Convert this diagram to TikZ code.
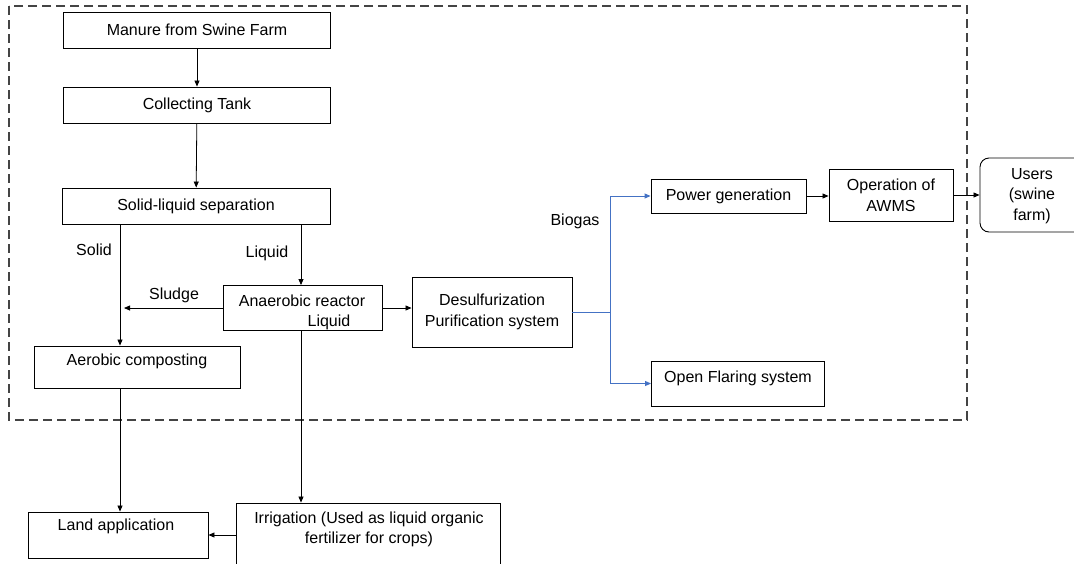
\documentclass[tikz,border=0pt]{standalone}
\usepackage{fontspec}
\setmainfont{Liberation Sans}
\usetikzlibrary{arrows.meta}
\definecolor{flowblue}{HTML}{4472C4}
\definecolor{frame}{HTML}{444444}
\begin{document}
\begin{tikzpicture}[x=1pt,y=-1pt,
  font=\fontsize{16}{20.7}\selectfont,
  box/.style={draw, line width=0.9pt, inner sep=0pt, align=center},
  txt/.style={inner sep=0pt, align=center},
  arr/.style={line width=0.8pt, -{Triangle[length=6pt,width=5pt]}},
  barr/.style={line width=0.9pt, draw=flowblue, -{Triangle[length=6pt,width=5pt]}},
  dashbox/.style={draw=frame, line width=1.2pt, dash pattern=on 9pt off 5pt}]
\useasboundingbox (0,0) rectangle (1074,563);
\draw[dashbox] (9,6) rectangle (967,420);

\node[box, minimum width=267pt, minimum height=36pt] (manure) at (197,30) {Manure from Swine Farm};
\node[box, minimum width=267pt, minimum height=36pt] (tank) at (197,105) {Collecting Tank};
\node[box, minimum width=268pt, minimum height=36pt] (sep) at (196,206) {Solid-liquid separation};

\node[box, minimum width=159pt, minimum height=45pt] (reactor) at (302.5,308) {};
\node[txt] (reactortxt) at (302,301) {Anaerobic reactor};
\node[txt] (reactorliq) at (329,322) {Liquid};

\node[box, minimum width=160pt, minimum height=70pt] (desulf) at (492,312) {Desulfurization\\Purification system};

\node[box, minimum width=206pt, minimum height=42pt] (compost) at (137,367) {};
\node[txt] (composttxt) at (137,361) {Aerobic composting};

\node[box, minimum width=155pt, minimum height=34pt] (power) at (728.5,196) {Power generation};
\node[box, minimum width=124pt, minimum height=52pt] (op) at (891,195) {Operation of\\AWMS};
\node[box, rounded corners=9pt, minimum width=115pt, minimum height=74pt] (users) at (1037.5,195) {};
\node[txt] (userstxt) at (1032,196) {Users\\(swine\\farm)};

\node[box, minimum width=173pt, minimum height=45pt] (flare) at (738,383.5) {};
\node[txt] (flaretxt) at (738,378) {Open Flaring system};

\node[box, minimum width=180pt, minimum height=46pt] (land) at (118,535) {};
\node[txt] (landtxt) at (116,526) {Land application};

\node[box, minimum width=264pt, minimum height=64pt] (irr) at (368,535) {};
\node[txt] (irrtxt) at (369,529.5) {Irrigation (Used as liquid organic\\fertilizer for crops)};

\node[txt] (solidlbl) at (94,250) {Solid};
\node[txt] (liquidlbl) at (267,253) {Liquid};
\node[txt] (sludgelbl) at (174,295) {Sludge};
\node[txt] (biogaslbl) at (575,221) {Biogas};

\coordinate (sl) at (124,308);

\draw[arr] (manure) -- (tank);
\draw[arr] (tank) -- (sep);
\draw[arr] ([xshift=-76pt]sep.south) -- ([xshift=-76pt]sep.south |- compost.north);
\draw[arr] ([xshift=105pt]sep.south) -- ([xshift=105pt]sep.south |- reactor.north);
\draw[arr] (reactor.west) -- (sl);
\draw[arr] (reactor.east) -- (reactor.east -| desulf.west);
\draw[line width=0.9pt, draw=flowblue] (desulf.east) -- ++(38,0) coordinate (bj);
\draw[barr] (bj) |- (power.west);
\draw[barr] (bj) |- (flare.west);
\draw[arr] (power.east) -- (power.east -| op.west);
\draw[arr] (op.east) -- (op.east -| users.west);
\draw[arr] ([xshift=-17pt]compost.south) -- ([xshift=-17pt]compost.south |- land.north);
\draw[arr] ([xshift=-1.5pt]reactor.south) -- ([xshift=-1.5pt]reactor.south |- irr.north);
\draw[arr] (irr.west) -- (land.east);
\end{tikzpicture}
\end{document}
